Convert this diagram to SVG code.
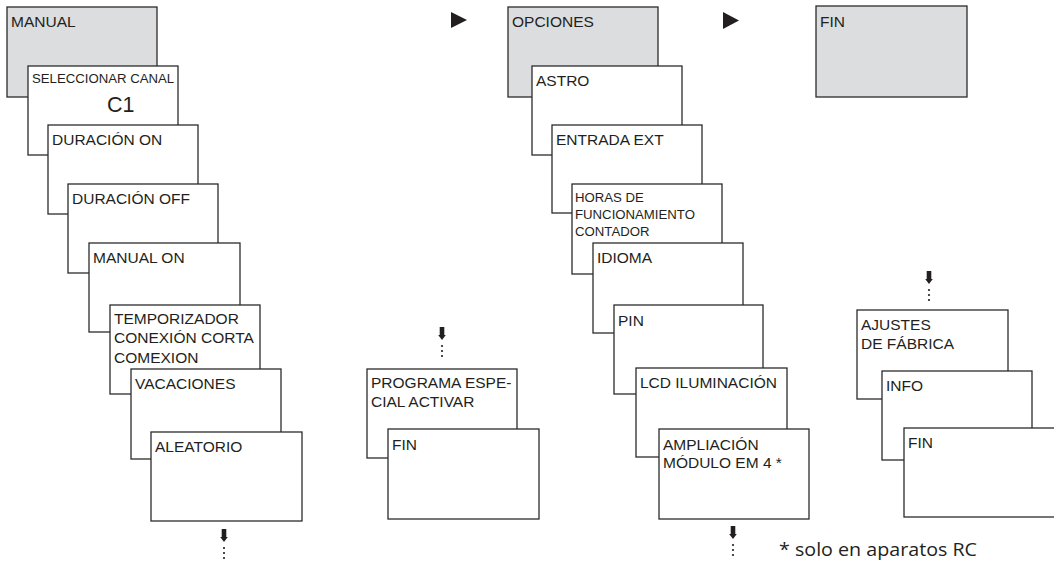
<svg xmlns="http://www.w3.org/2000/svg" width="1054" height="564" viewBox="0 0 1054 564">
<defs>
<style>
.b{fill:#fff;stroke:#2b2b2b;stroke-width:1.3}
.g{fill:#dcdddf;stroke:#2b2b2b;stroke-width:1.3}
text{font-family:"Liberation Sans",Arial,sans-serif;fill:#231f20}
.t{font-size:15.5px}
.s{font-size:13.2px}
.c1{font-size:21.5px}
.fn{font-family:"Open Sans","Noto Sans",sans-serif;font-size:18px}
.ar{fill:#231f20}
</style>
<g id="dn">
<path d="M-2.3,0 H2.3 V8 H3.8 L0,13 L-3.8,8 H-2.3 Z" class="ar"/>
<circle cx="0" cy="19" r="1.1" class="ar"/>
<circle cx="0" cy="24" r="1.1" class="ar"/>
<circle cx="0" cy="29" r="1.1" class="ar"/>
</g>
</defs>
<rect width="1054" height="564" fill="#fff"/>

<g id="col-manual">
<g id="n-manual"><rect class="g" x="7" y="7" width="150" height="90"/><text class="t" x="11" y="27">MANUAL</text></g>
<g id="n-canal"><rect class="b" x="28" y="66" width="150" height="89"/><text class="s" x="32" y="83">SELECCIONAR CANAL</text><text class="c1" x="107" y="112">C1</text></g>
<g id="n-don"><rect class="b" x="48" y="125" width="150" height="89"/><text class="t" x="52" y="145">DURACIÓN ON</text></g>
<g id="n-doff"><rect class="b" x="68" y="184" width="150" height="89"/><text class="t" x="72" y="204">DURACIÓN OFF</text></g>
<g id="n-mon"><rect class="b" x="89" y="243" width="151" height="89"/><text class="t" x="93" y="263">MANUAL ON</text></g>
<g id="n-temp"><rect class="b" x="110" y="305" width="150" height="89"/><text class="t" x="114" y="324">TEMPORIZADOR</text><text class="t" x="114" y="343">CONEXIÓN CORTA</text><text class="t" x="114" y="363">COMEXION</text></g>
<g id="n-vac"><rect class="b" x="131" y="369" width="150" height="90"/><text class="t" x="135" y="389">VACACIONES</text></g>
<g id="n-alea"><rect class="b" x="151" y="432" width="151" height="89"/><text class="t" x="155" y="452">ALEATORIO</text></g>
</g>

<g id="col-prog">
<g id="n-prog"><rect class="b" x="367" y="369" width="150" height="89"/><text class="t" x="371" y="388">PROGRAMA ESPE-</text><text class="t" x="371" y="407">CIAL ACTIVAR</text></g>
<g id="n-fin1"><rect class="b" x="388" y="429" width="151" height="90"/><text class="t" x="392" y="450">FIN</text></g>
</g>

<g id="col-opciones">
<g id="n-opc"><rect class="g" x="508" y="7" width="150" height="90"/><text class="t" x="512" y="27">OPCIONES</text></g>
<g id="n-astro"><rect class="b" x="532" y="66" width="150" height="89"/><text class="t" x="536" y="86">ASTRO</text></g>
<g id="n-ext"><rect class="b" x="552" y="125" width="150" height="88"/><text class="t" x="556" y="145">ENTRADA EXT</text></g>
<g id="n-horas"><rect class="b" x="572" y="184" width="150" height="90"/><text class="s" x="575" y="202">HORAS DE</text><text class="s" x="575" y="219">FUNCIONAMIENTO</text><text class="s" x="575" y="236">CONTADOR</text></g>
<g id="n-idioma"><rect class="b" x="593" y="243" width="150" height="90"/><text class="t" x="597" y="263">IDIOMA</text></g>
<g id="n-pin"><rect class="b" x="614" y="305" width="149" height="89"/><text class="t" x="618" y="326">PIN</text></g>
<g id="n-lcd"><rect class="b" x="636" y="368" width="151" height="89"/><text class="t" x="640" y="388">LCD ILUMINACIÓN</text></g>
<g id="n-amp"><rect class="b" x="659" y="429" width="150" height="90"/><text class="t" x="663" y="450">AMPLIACIÓN</text><text class="t" x="663" y="468">MÓDULO EM 4 *</text></g>
</g>

<g id="col-fin">
<g id="n-fin"><rect class="g" x="816" y="6" width="151" height="91"/><text class="t" x="820" y="27">FIN</text></g>
<g id="n-ajustes"><rect class="b" x="857" y="310" width="151" height="89"/><text class="t" x="861" y="330">AJUSTES</text><text class="t" x="861" y="349">DE FÁBRICA</text></g>
<g id="n-info"><rect class="b" x="882" y="371" width="150" height="89"/><text class="t" x="886" y="391">INFO</text></g>
<g id="n-fin2"><rect class="b" x="904" y="428" width="152" height="89"/><text class="t" x="908" y="448">FIN</text></g>
</g>

<g id="connectors">
<path class="ar" d="M451,12 L467,20 L451,28 Z"/>
<path class="ar" d="M723,12 L739,20.5 L723,29 Z"/>
<use href="#dn" x="224" y="529"/>
<use href="#dn" x="442" y="327"/>
<use href="#dn" x="733" y="526"/>
<use href="#dn" x="929" y="271"/>
</g>

<text class="fn" x="779" y="556" textLength="198" lengthAdjust="spacingAndGlyphs">* solo en aparatos RC</text>
</svg>
